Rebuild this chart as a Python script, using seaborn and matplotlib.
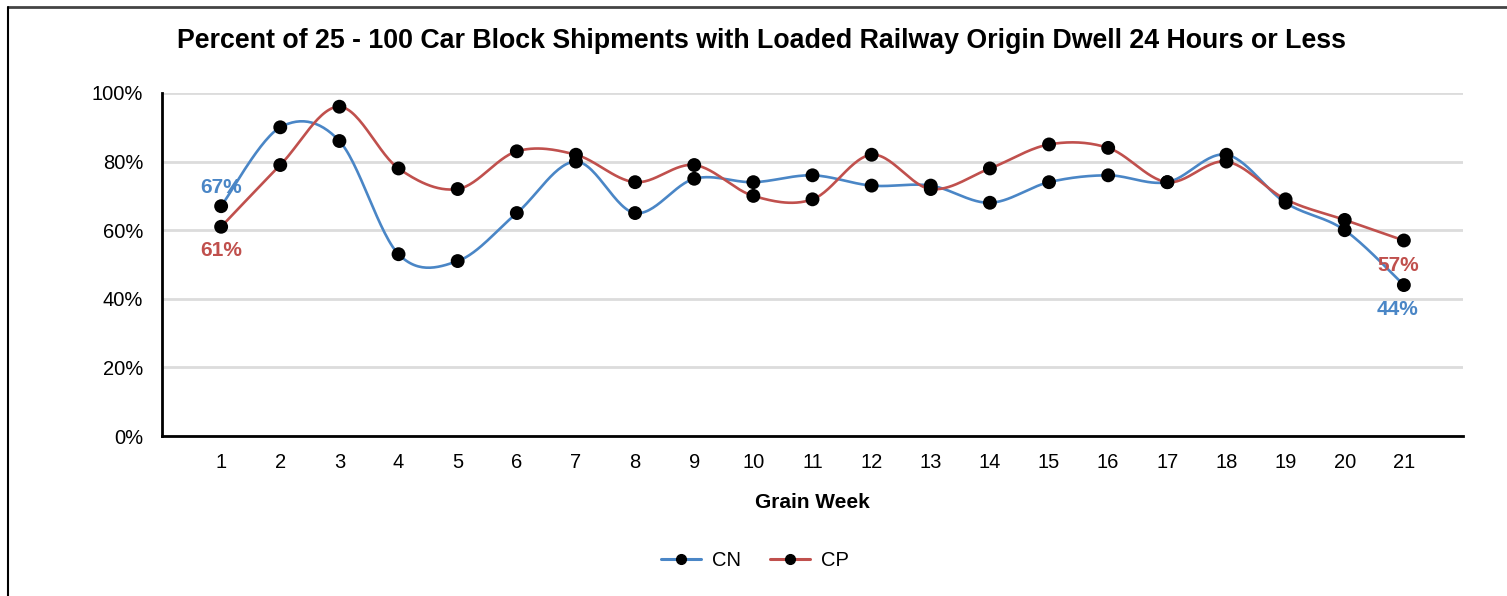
import numpy as np
import pandas as pd
import matplotlib
matplotlib.use("Agg")
import matplotlib.pyplot as plt
import seaborn as sns
from matplotlib.lines import Line2D

# ---- data ----
weeks = list(range(1, 22))
cn_values = [67, 90, 86, 53, 51, 65, 80, 65, 75, 74, 76, 73, 73, 68, 74, 76, 74, 82, 68, 60, 44]
cp_values = [61, 79, 96, 78, 72, 83, 82, 74, 79, 70, 69, 82, 72, 78, 85, 84, 74, 80, 69, 63, 57]
series_names = ["CN", "CP"]
y_tick_values = [0, 20, 40, 60, 80, 100]
title_text = "Percent of 25 - 100 Car Block Shipments with Loaded Railway Origin Dwell 24 Hours or Less"
x_label_text = "Grain Week"

colors = {"CN": "#4a86c6", "CP": "#c0504d"}

sns.set_theme(style="white")
plt.rcParams["font.family"] = ["Liberation Sans", "DejaVu Sans"]
plt.rcParams["text.color"] = "black"
plt.rcParams["axes.labelcolor"] = "black"
plt.rcParams["xtick.color"] = "black"
plt.rcParams["ytick.color"] = "black"


def cardinal_spline(xs, ys, n=30):
    """Cardinal (tension 0 / Catmull-Rom) interpolating curve through the points."""
    p = np.column_stack([np.asarray(xs, float), np.asarray(ys, float)])
    pad = np.vstack([p[0], p, p[-1]])
    out = []
    t = np.linspace(0, 1, n, endpoint=False)
    for i in range(1, len(pad) - 2):
        p0, p1, p2, p3 = pad[i - 1], pad[i], pad[i + 1], pad[i + 2]
        m1 = (p2 - p0) / 2.0
        m2 = (p3 - p1) / 2.0
        h00 = 2 * t**3 - 3 * t**2 + 1
        h10 = t**3 - 2 * t**2 + t
        h01 = -2 * t**3 + 3 * t**2
        h11 = t**3 - t**2
        seg = (h00[:, None] * p1 + h10[:, None] * m1 + h01[:, None] * p2 + h11[:, None] * m2)
        out.append(seg)
    out.append(p[-1][None, :])
    arr = np.vstack(out)
    return arr[:, 0], arr[:, 1]


W, H = 1507, 596
fig = plt.figure(figsize=(W / 100, H / 100), dpi=100)
ax = fig.add_axes([162 / W, (H - 436) / H, (1463 - 162) / W, (436 - 93) / H])

points = pd.DataFrame({
    "week": weeks * 2,
    "value": cn_values + cp_values,
    "series": ["CN"] * len(weeks) + ["CP"] * len(weeks),
})

curves = []
for name, vals in zip(series_names, [cn_values, cp_values]):
    cx, cy = cardinal_spline(weeks, vals)
    curves.append(pd.DataFrame({"x": cx, "y": cy, "series": name, "order": np.arange(len(cx))}))
curves = pd.concat(curves, ignore_index=True)

for name in series_names:
    sub = curves[curves["series"] == name]
    sns.lineplot(data=sub, x="x", y="y", sort=False, estimator=None, color=colors[name],
                 linewidth=1.9, ax=ax, legend=False, zorder=3)
sns.scatterplot(data=points, x="week", y="value", color="black", s=100, edgecolor="none",
                ax=ax, legend=False, zorder=4)

ax.set_xlim(0, 22)
ax.set_ylim(0, 100)
ax.set_yticks(y_tick_values)
ax.set_yticklabels([f"{v}%" for v in y_tick_values])
ax.set_xticks(range(0, 23))
ax.set_xticklabels([""] + [str(w) for w in weeks] + [""])
ax.set_xlabel("")
ax.set_ylabel("")

ax.grid(axis="y", color="#dcdcdc", linewidth=2)
ax.grid(axis="x", visible=False)
ax.set_axisbelow(True)
for s in ["top", "right"]:
    ax.spines[s].set_visible(False)
for s in ["left", "bottom"]:
    ax.spines[s].set_color("black")
    ax.spines[s].set_linewidth(2)
ax.tick_params(axis="y", length=8.6, width=1, color="#444444", pad=5, labelsize=14.5, labelcolor="black")
ax.tick_params(axis="x", length=4.5, width=1, color="#444444", pad=8, labelsize=14.5, labelcolor="black")

# end labels
lab_kw = dict(ha="center", va="center", fontsize=15, fontweight="bold", zorder=5, textcoords="offset pixels")
ax.annotate(f"{cn_values[0]}%", (weeks[0], cn_values[0]), xytext=(0, 19), color=colors["CN"], **lab_kw)
ax.annotate(f"{cp_values[0]}%", (weeks[0], cp_values[0]), xytext=(0, -24), color=colors["CP"], **lab_kw)
ax.annotate(f"{cp_values[-1]}%", (weeks[-1], cp_values[-1]), xytext=(-6, -25), color=colors["CP"], **lab_kw)
ax.annotate(f"{cn_values[-1]}%", (weeks[-1], cn_values[-1]), xytext=(-6, -24), color=colors["CN"], **lab_kw)

fig.text(761 / W, 1 - 41 / H, title_text, ha="center", va="center", fontsize=19.3, fontweight="bold")
fig.text(812.5 / W, 1 - 503 / H, x_label_text, ha="center", va="center", fontsize=15, fontweight="bold")

handles = [Line2D([0], [0], color=colors[n], lw=2.2, marker="o", markersize=7,
                  markerfacecolor="black", markeredgecolor="black") for n in series_names]
fig.legend(handles, series_names, loc="center", bbox_to_anchor=(755 / W, 1 - 561 / H), ncol=2,
           frameon=False, fontsize=14.5, handlelength=2.0, handletextpad=0.55, columnspacing=1.4)

# outer border (top and left edges visible)
fig.add_artist(Line2D([8 / W, 1], [1 - 7 / H, 1 - 7 / H], transform=fig.transFigure,
                      color="#444444", lw=2))
fig.add_artist(Line2D([8 / W, 8 / W], [0, 1 - 7 / H], transform=fig.transFigure,
                      color="black", lw=1.5))

fig.savefig("out.png", dpi=100)
